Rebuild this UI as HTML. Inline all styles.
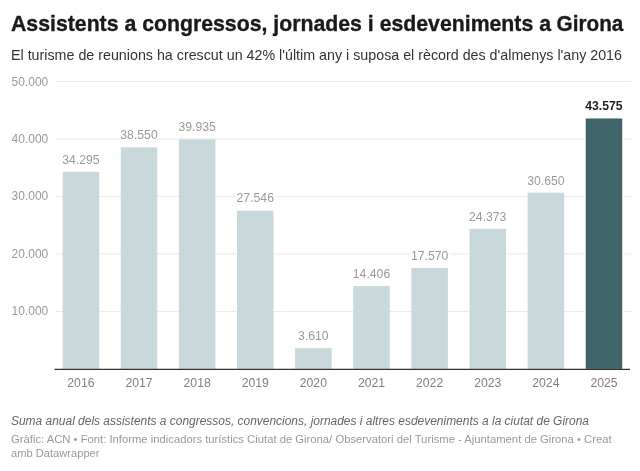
<!DOCTYPE html>
<html><head><meta charset="utf-8">
<style>
html,body{margin:0;padding:0;background:#fff;}
svg{display:block;will-change:transform;}
text{font-family:"Liberation Sans",sans-serif;}
.t{font-size:22.5px;font-weight:bold;fill:#1a1a1a;stroke:#1a1a1a;stroke-width:0.35px;}
.st{font-size:14.5px;fill:#333;}
.yl{font-size:13px;fill:#999;text-anchor:end;}
.vl{font-size:13px;fill:#999;text-anchor:middle;paint-order:stroke;stroke:#fff;stroke-width:4px;stroke-linejoin:round;}
.vl.b{font-weight:bold;fill:#222;stroke:#fff;}
.xl{font-size:13px;fill:#808080;text-anchor:middle;}
.ds{font-size:12px;font-style:italic;fill:#666;}
.ft{font-size:11px;fill:#999;}
</style></head><body>
<svg width="640" height="471" viewBox="0 0 640 471">
<rect width="640" height="471" fill="#fff"/>
<text class="t" x="11" y="31" textLength="540" lengthAdjust="spacingAndGlyphs">Assistents a congressos, jornades i esdeveniments a</text><text class="t" x="556.6" y="31" textLength="66.7" lengthAdjust="spacingAndGlyphs">Girona</text>
<text class="st" x="11" y="59.8" textLength="611" lengthAdjust="spacingAndGlyphs">El turisme de reunions ha crescut un 42% l'últim any i suposa el rècord des d'almenys l'any 2016</text>
<line x1="55.5" x2="631.5" y1="311.43" y2="311.43" stroke="#e9e9e9" stroke-width="1"/><line x1="55.5" x2="631.5" y1="253.96" y2="253.96" stroke="#e9e9e9" stroke-width="1"/><line x1="55.5" x2="631.5" y1="196.49" y2="196.49" stroke="#e9e9e9" stroke-width="1"/><line x1="55.5" x2="631.5" y1="139.02" y2="139.02" stroke="#e9e9e9" stroke-width="1"/><line x1="55.5" x2="631.5" y1="81.55" y2="81.55" stroke="#e9e9e9" stroke-width="1"/>
<text class="yl" x="48.2" y="315.43" textLength="36.6" lengthAdjust="spacingAndGlyphs">10.000</text><text class="yl" x="48.2" y="257.96" textLength="36.6" lengthAdjust="spacingAndGlyphs">20.000</text><text class="yl" x="48.2" y="200.49" textLength="36.6" lengthAdjust="spacingAndGlyphs">30.000</text><text class="yl" x="48.2" y="143.02" textLength="36.6" lengthAdjust="spacingAndGlyphs">40.000</text><text class="yl" x="48.2" y="85.55" textLength="36.6" lengthAdjust="spacingAndGlyphs">50.000</text>
<rect x="62.65" y="171.81" width="36.5" height="197.09" fill="#c9d8da"/><rect x="120.77" y="147.35" width="36.5" height="221.55" fill="#c9d8da"/><rect x="178.89" y="139.39" width="36.5" height="229.51" fill="#c9d8da"/><rect x="237.01" y="210.59" width="36.5" height="158.31" fill="#c9d8da"/><rect x="295.13" y="348.15" width="36.5" height="20.75" fill="#c9d8da"/><rect x="353.25" y="286.11" width="36.5" height="82.79" fill="#c9d8da"/><rect x="411.37" y="267.93" width="36.5" height="100.97" fill="#c9d8da"/><rect x="469.49" y="228.83" width="36.5" height="140.07" fill="#c9d8da"/><rect x="527.61" y="192.75" width="36.5" height="176.15" fill="#c9d8da"/><rect x="583.73" y="118.47" width="40.5" height="250.43" fill="#fff"/><rect x="585.73" y="118.47" width="36.5" height="250.43" fill="#3e6369"/>
<line x1="54.5" x2="630" y1="369.4" y2="369.4" stroke="#333" stroke-width="1.2"/>
<text class="vl" x="80.90" y="163.61" textLength="37.37" lengthAdjust="spacingAndGlyphs">34.295</text><text class="vl" x="139.02" y="139.15" textLength="37.37" lengthAdjust="spacingAndGlyphs">38.550</text><text class="vl" x="197.14" y="131.19" textLength="37.37" lengthAdjust="spacingAndGlyphs">39.935</text><text class="vl" x="255.26" y="202.39" textLength="37.37" lengthAdjust="spacingAndGlyphs">27.546</text><text class="vl" x="313.38" y="339.95" textLength="30.57" lengthAdjust="spacingAndGlyphs">3.610</text><text class="vl" x="371.50" y="277.91" textLength="37.37" lengthAdjust="spacingAndGlyphs">14.406</text><text class="vl" x="429.62" y="259.73" textLength="37.37" lengthAdjust="spacingAndGlyphs">17.570</text><text class="vl" x="487.74" y="220.63" textLength="37.37" lengthAdjust="spacingAndGlyphs">24.373</text><text class="vl" x="545.86" y="184.55" textLength="37.37" lengthAdjust="spacingAndGlyphs">30.650</text><text class="vl b" x="603.98" y="110.27" textLength="37.37" lengthAdjust="spacingAndGlyphs">43.575</text>
<text class="xl" x="80.90" y="386.9" textLength="27.18" lengthAdjust="spacingAndGlyphs">2016</text><text class="xl" x="139.02" y="386.9" textLength="27.18" lengthAdjust="spacingAndGlyphs">2017</text><text class="xl" x="197.14" y="386.9" textLength="27.18" lengthAdjust="spacingAndGlyphs">2018</text><text class="xl" x="255.26" y="386.9" textLength="27.18" lengthAdjust="spacingAndGlyphs">2019</text><text class="xl" x="313.38" y="386.9" textLength="27.18" lengthAdjust="spacingAndGlyphs">2020</text><text class="xl" x="371.50" y="386.9" textLength="27.18" lengthAdjust="spacingAndGlyphs">2021</text><text class="xl" x="429.62" y="386.9" textLength="27.18" lengthAdjust="spacingAndGlyphs">2022</text><text class="xl" x="487.74" y="386.9" textLength="27.18" lengthAdjust="spacingAndGlyphs">2023</text><text class="xl" x="545.86" y="386.9" textLength="27.18" lengthAdjust="spacingAndGlyphs">2024</text><text class="xl" x="603.98" y="386.9" textLength="27.18" lengthAdjust="spacingAndGlyphs">2025</text>
<text class="ds" x="11" y="424.8" textLength="578" lengthAdjust="spacingAndGlyphs">Suma anual dels assistents a congressos, convencions, jornades i altres esdeveniments a la ciutat de Girona</text>
<text class="ft" x="11" y="443.0" textLength="600.6" lengthAdjust="spacingAndGlyphs">Gràfic: ACN • Font: Informe indicadors turístics Ciutat de Girona/ Observatori del Turisme - Ajuntament de Girona • Creat</text>
<text class="ft" x="11" y="456.6" textLength="88.5" lengthAdjust="spacingAndGlyphs">amb Datawrapper</text>
</svg>
</body></html>
